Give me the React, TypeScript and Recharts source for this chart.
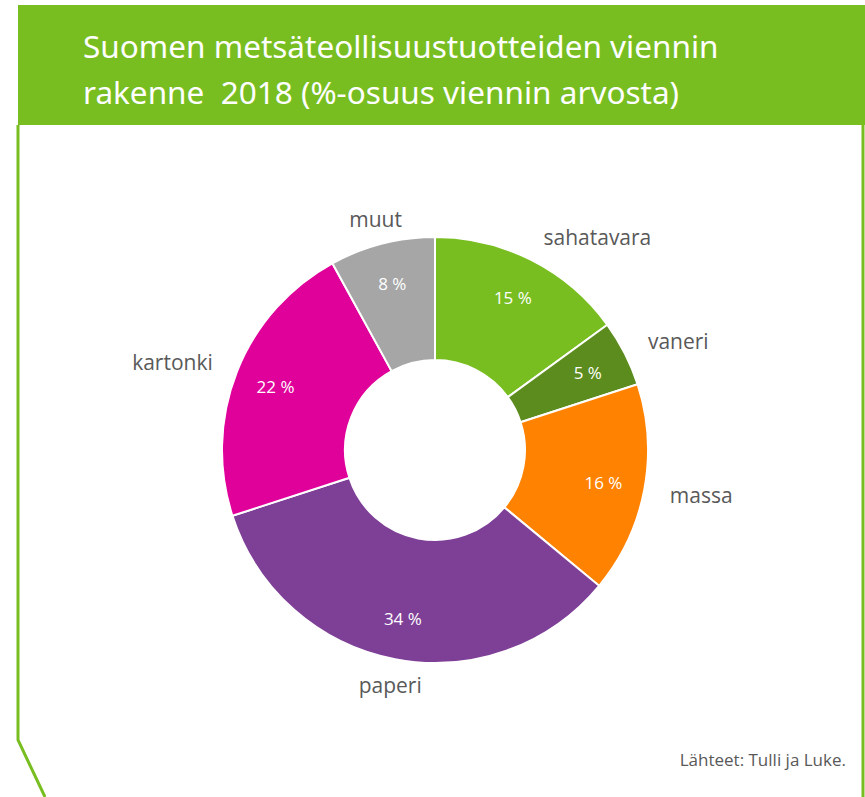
import React from 'react';
import { PieChart, Pie, Cell } from 'recharts';

const categories = ['sahatavara', 'vaneri', 'massa', 'paperi', 'kartonki', 'muut'];
const shares = [15, 5, 16, 34, 22, 8];
const colors = ['#78be21', '#5b8c1d', '#ff8200', '#7e3f97', '#e0009a', '#a6a6a6'];

const data = categories.map((name, i) => ({ name, value: shares[i] }));

const RAD = Math.PI / 180;

const renderLabel = (props: any) => {
  const { cx, cy, midAngle, innerRadius, outerRadius, name, value } = props;
  const cos = Math.cos(-midAngle * RAD);
  const sin = Math.sin(-midAngle * RAD);
  const rIn = (innerRadius + outerRadius) / 2 + 20;
  const ix = cx + rIn * cos;
  const iy = cy + rIn * sin;
  const rOut = outerRadius + 26;
  const ox = cx + rOut * cos;
  const oy = cy + rOut * sin;
  const anchor = Math.abs(cos) < 0.3 ? 'middle' : cos > 0 ? 'start' : 'end';
  return (
    <g>
      <text x={ix} y={iy} fill="#ffffff" fontSize={17} textAnchor="middle" dominantBaseline="central" fontFamily="'Open Sans', sans-serif">
        {`${value} %`}
      </text>
      <text x={ox} y={oy} fill="#595959" fontSize={21} textAnchor={anchor} dominantBaseline="central" fontFamily="'Open Sans', sans-serif">
        {name}
      </text>
    </g>
  );
};

export default function App() {
  return (
    <div style={{ position: 'absolute', left: 0, top: 0, width: 865, height: 797, background: '#ffffff', overflow: 'hidden' }}>
      <div style={{ position: 'absolute', left: 18, top: 5, width: 847, height: 120, background: '#78be21' }} />
      <div style={{ position: 'absolute', left: 83, top: 23, color: '#ffffff', fontFamily: "'Noto Sans', sans-serif", fontSize: 31.5, lineHeight: '46px', whiteSpace: 'nowrap' }}>
        <div>Suomen metsäteollisuustuotteiden viennin</div>
        <div>rakenne&nbsp; 2018 (%-osuus viennin arvosta)</div>
      </div>
      <svg style={{ position: 'absolute', left: 0, top: 0 }} width={865} height={797}>
        <polyline points="18,125 18,740 45,797" fill="none" stroke="#78be21" strokeWidth={3} />
        <line x1={863} y1={125} x2={863} y2={797} stroke="#78be21" strokeWidth={3} />
      </svg>
      <div style={{ position: 'absolute', left: 0, top: 0 }}>
        <PieChart width={865} height={797} margin={{ top: 0, right: 0, bottom: 0, left: 0 }}>
          <Pie
            data={data}
            dataKey="value"
            nameKey="name"
            cx={435}
            cy={450}
            innerRadius={90}
            outerRadius={213}
            startAngle={90}
            endAngle={-270}
            stroke="#ffffff"
            strokeWidth={2}
            label={renderLabel}
            labelLine={false}
            isAnimationActive={false}
          >
            {data.map((d, i) => (
              <Cell key={d.name} fill={colors[i]} />
            ))}
          </Pie>
        </PieChart>
      </div>
      <div style={{ position: 'absolute', right: 19, top: 748, color: '#595959', fontFamily: "'Open Sans', sans-serif", fontSize: 17 }}>
        Lähteet: Tulli ja Luke.
      </div>
    </div>
  );
}
